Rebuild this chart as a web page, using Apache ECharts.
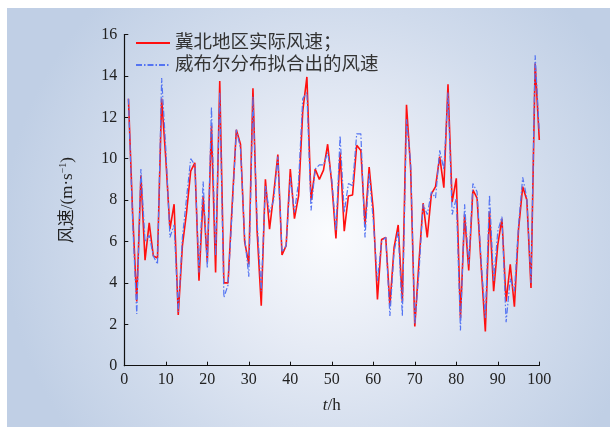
<!DOCTYPE html>
<html>
<head>
<meta charset="utf-8">
<script src="https://cdn.jsdelivr.net/npm/echarts@6/dist/echarts.min.js"></script>
<style>html,body{margin:0;padding:0;background:#fff}#c{width:610px;height:427px}</style>
</head>
<body>
<div id="c"></div>
<script>
var hours = [];
for (var h = 1; h <= 100; h++) hours.push(h);

var actualSpeed = [12.9,7.4,3.1,9.2,5.1,6.9,5.3,5.2,12.9,10.0,
  6.6,7.8,2.45,5.8,7.4,9.4,9.8,4.1,8.2,5.0,
  11.6,4.5,13.75,4.0,4.0,7.8,11.4,10.7,6.0,4.9,
  13.4,6.5,2.9,9.0,6.6,8.3,10.2,5.35,5.8,9.5,
  7.1,8.2,12.3,13.95,8.0,9.5,9.0,9.45,10.7,8.8,
  6.15,10.3,6.5,8.2,8.25,10.65,10.4,6.8,9.6,7.5,
  3.2,6.1,6.2,2.9,5.7,6.8,3.1,12.6,9.5,1.9,
  5.0,7.85,6.2,8.3,8.65,10.1,8.6,13.6,7.9,9.05,
  2.3,7.3,4.6,8.5,8.1,4.8,1.65,7.45,3.6,5.85,
  7.1,3.1,4.9,2.85,6.6,8.65,8.0,3.75,14.6,10.9];

var weibullSpeed = [12.9,7.0,2.5,9.5,6.0,6.3,5.3,4.9,13.9,10.5,
  6.2,6.8,2.6,6.2,8.1,10.0,9.7,4.5,8.9,4.7,
  12.5,5.3,13.2,3.3,3.9,7.5,11.4,10.5,6.2,4.3,
  13.0,7.0,3.6,8.7,7.4,8.0,10.1,5.5,5.8,9.1,
  7.4,8.9,12.9,13.2,7.5,9.5,9.7,9.7,10.3,9.0,
  6.5,11.1,7.4,8.8,8.7,11.2,11.2,6.2,9.3,7.0,
  4.1,6.0,6.2,2.4,5.5,6.5,2.4,11.9,9.8,2.0,
  4.5,7.8,7.3,8.4,8.1,10.4,9.5,13.2,7.3,8.1,
  1.7,7.8,4.9,8.8,8.4,5.0,2.3,8.25,4.1,6.5,
  7.2,2.1,4.2,3.6,6.8,9.1,8.1,4.0,15.0,11.3];

var seriesNames = ['冀北地区实际风速；', '威布尔分布拟合出的风速'];

function pairs(vals) {
  return hours.map(function (h, i) { return [h, vals[i]]; });
}

var chart = echarts.init(document.getElementById('c'), null, {renderer: 'canvas'});
var serif = '"Liberation Serif", "Noto Sans CJK SC", serif';
chart.setOption({
  animation: false,
  graphic: [{
    type: 'rect', z: -10, silent: true,
    shape: {x: 7, y: 8, width: 603, height: 419},
    style: {
      fill: new echarts.graphic.RadialGradient(0.536, 0.54, 0.78, [
        {offset: 0, color: '#fbfcfe'},
        {offset: 0.35, color: '#e6ebf5'},
        {offset: 0.7, color: '#d0dbec'},
        {offset: 1, color: '#c0cfe5'}
      ])
    }
  }],
  legend: {
    data: seriesNames,
    orient: 'vertical',
    left: 130, top: 28,
    itemWidth: 34, itemHeight: 14, itemGap: 2,
    itemStyle: {opacity: 0},
    textStyle: {fontSize: 18.5, color: '#333', fontFamily: serif, lineHeight: 20}
  },
  grid: {left: 124.3, right: 70.7, top: 34.5, bottom: 61.3, containLabel: false},
  xAxis: {
    type: 'value', min: 0, max: 100, interval: 10,
    name: '{i|t}/h', nameLocation: 'middle', nameGap: 31,
    nameTextStyle: {fontSize: 17, color: '#222', fontFamily: serif,
      rich: {i: {fontStyle: 'italic', fontSize: 17, fontFamily: serif, color: '#222'}}},
    axisLine: {lineStyle: {color: '#111', width: 1.2}},
    axisTick: {inside: true, length: 4, lineStyle: {color: '#111'}},
    axisLabel: {fontSize: 16, color: '#222', fontFamily: serif, margin: 6},
    splitLine: {show: false}
  },
  yAxis: {
    type: 'value', min: 0, max: 16, interval: 2,
    name: '风速/(m·s{s|−1})', nameLocation: 'middle', nameGap: 48, nameRotate: 90,
    nameTextStyle: {fontSize: 17, color: '#222', fontFamily: serif,
      rich: {s: {fontSize: 10, verticalAlign: 'top', fontFamily: serif, color: '#222', padding: [0,0,8,0]}}},
    axisLine: {show: true, lineStyle: {color: '#111', width: 1.2}},
    axisTick: {show: true, inside: true, length: 4, lineStyle: {color: '#111'}},
    axisLabel: {fontSize: 16, color: '#222', fontFamily: serif, margin: 7},
    splitLine: {show: false}
  },
  series: [{
    name: seriesNames[0], type: 'line', data: pairs(actualSpeed),
    symbol: 'none', lineStyle: {color: '#ff1010', width: 1.6}, itemStyle: {color: '#ff1010'}
  }, {
    name: seriesNames[1], type: 'line', data: pairs(weibullSpeed),
    symbol: 'none', lineStyle: {color: '#5474f2', width: 1.2, type: [6, 2, 1.5, 2]}, itemStyle: {color: '#5474f2'}
  }]
});
</script>
</body>
</html>
